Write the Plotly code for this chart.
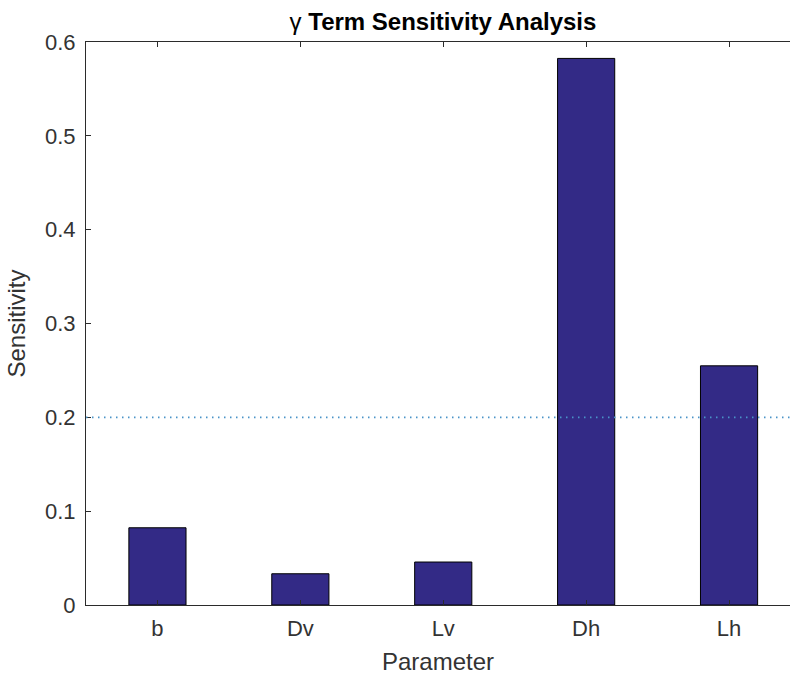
import plotly.graph_objects as go

categories = ["b", "Dv", "Lv", "Dh", "Lh"]
sensitivity = [0.0823, 0.0333, 0.0458, 0.5825, 0.2549]
threshold = 0.2
y_ticks = [0, 0.1, 0.2, 0.3, 0.4, 0.5, 0.6]
y_tick_labels = ["0", "0.1", "0.2", "0.3", "0.4", "0.5", "0.6"]

axis_color = "#2b2b2b"
text_color = "#333333"
font_family = "Liberation Sans, Arial, Helvetica, sans-serif"

fig = go.Figure()
fig.add_trace(go.Bar(
    x=categories,
    y=sensitivity,
    width=0.4,
    marker=dict(color="#332A86", line=dict(color="#000000", width=1)),
    showlegend=False,
))

fig.add_hline(y=threshold, line=dict(color="#4a93c8", width=1.6, dash="1.5px,4.5px"))

fig.update_layout(
    width=790,
    height=677,
    margin=dict(l=86, r=0, t=42, b=72),
    paper_bgcolor="white",
    plot_bgcolor="white",
    font=dict(family=font_family, color=text_color),
    title=dict(
        text="γ <b>Term Sensitivity Analysis</b>",
        xref="paper",
        x=(443 - 86) / 704,
        xanchor="center",
        y=1 - 22 / 677,
        yanchor="middle",
        font=dict(size=24, color="#000000", family=font_family),
    ),
)

fig.update_xaxes(
    range=[-0.5, -0.5 + 704 / 142.9],
    showline=True,
    linecolor=axis_color,
    linewidth=1,
    mirror="ticks",
    ticks="inside",
    ticklen=5,
    tickcolor=axis_color,
    tickfont=dict(size=22, color=text_color),
    ticklabelstandoff=4,
    showgrid=False,
    zeroline=False,
    title=dict(text="Parameter", font=dict(size=24, color=text_color), standoff=12),
)

fig.update_yaxes(
    range=[0, 0.6],
    tickvals=y_ticks,
    ticktext=y_tick_labels,
    showline=True,
    linecolor=axis_color,
    linewidth=1,
    mirror=False,
    ticks="inside",
    ticklen=5,
    tickcolor=axis_color,
    tickfont=dict(size=22, color=text_color),
    ticklabelstandoff=5,
    showgrid=False,
    zeroline=False,
    title=dict(text="Sensitivity", font=dict(size=24, color=text_color), standoff=12),
)

fig.write_html("out.html")
